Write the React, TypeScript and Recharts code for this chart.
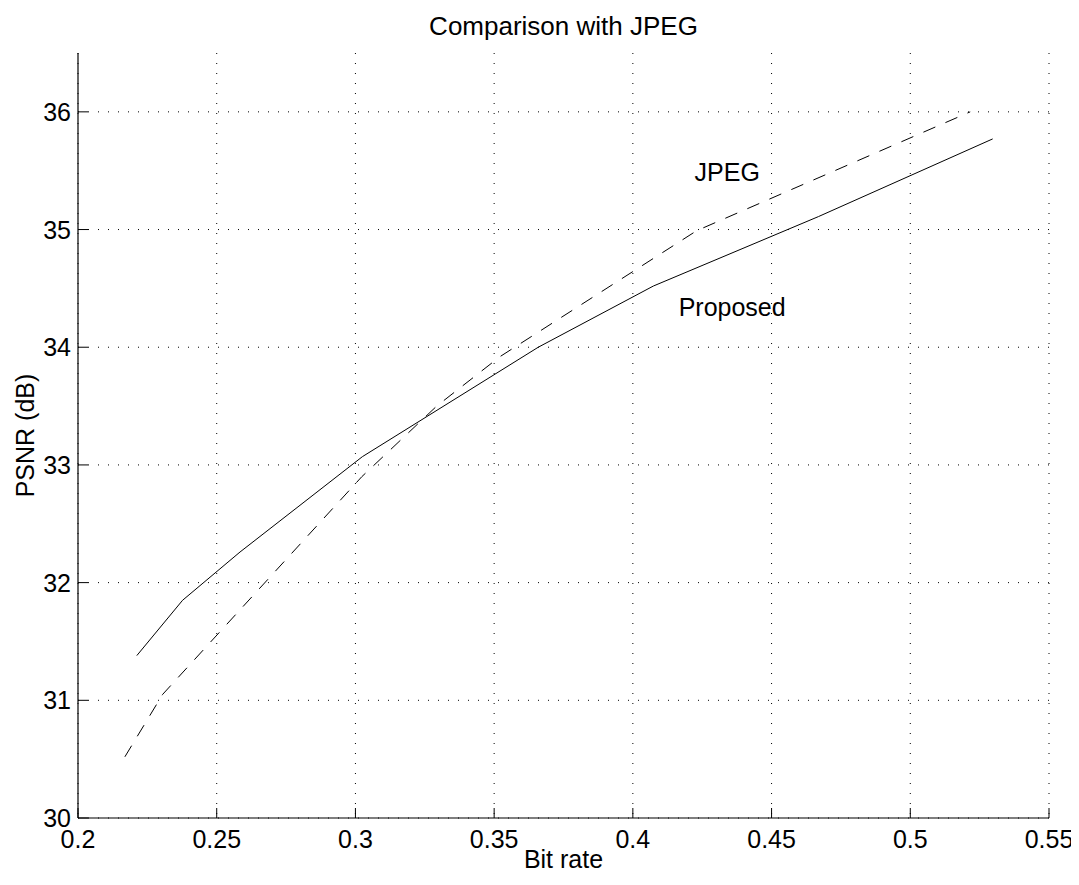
import React from "react";
import {
  LineChart,
  Line,
  XAxis,
  YAxis,
  CartesianGrid,
  ReferenceDot,
} from "recharts";

// values
const proposed = [
  { rate: 0.2212, psnr: 31.38 },
  { rate: 0.2377, psnr: 31.85 },
  { rate: 0.2584, psnr: 32.26 },
  { rate: 0.3025, psnr: 33.07 },
  { rate: 0.3659, psnr: 34.0 },
  { rate: 0.4074, psnr: 34.52 },
  { rate: 0.4669, psnr: 35.11 },
  { rate: 0.5297, psnr: 35.77 },
];

const jpeg = [
  { rate: 0.2169, psnr: 30.52 },
  { rate: 0.2305, psnr: 31.05 },
  { rate: 0.3023, psnr: 32.9 },
  { rate: 0.3293, psnr: 33.5 },
  { rate: 0.3521, psnr: 33.92 },
  { rate: 0.423, psnr: 34.99 },
  { rate: 0.5216, psnr: 36.0 },
];

const bitRateTicks = [0.2, 0.25, 0.3, 0.35, 0.4, 0.45, 0.5, 0.55];
const psnrTicks = [30, 31, 32, 33, 34, 35, 36];

const curveLabels = [
  { text: "JPEG", rate: 0.434, psnr: 35.49 },
  { text: "Proposed", rate: 0.4358, psnr: 34.34 },
];

const FONT = "'Liberation Sans', Arial, Helvetica, sans-serif";
const TICK_LEN = 10;

const BottomTick = (props: any) => {
  const { x, y, payload } = props;
  return (
    <g>
      <line x1={x} y1={y} x2={x} y2={y - TICK_LEN} stroke="#000" />
      <text x={x} y={y + 30} textAnchor="middle" fontSize={25} fill="#000">
        {String(payload.value)}
      </text>
    </g>
  );
};

const LeftTick = (props: any) => {
  const { x, y, payload } = props;
  return (
    <g>
      <line x1={x} y1={y} x2={x + TICK_LEN} y2={y} stroke="#000" />
      <text x={x - 7} y={y + 9} textAnchor="end" fontSize={25} fill="#000">
        {String(payload.value)}
      </text>
    </g>
  );
};

const TopTick = (props: any) => {
  const { x, y } = props;
  return <line x1={x} y1={y} x2={x} y2={y + TICK_LEN} stroke="#000" />;
};

const RightTick = (props: any) => {
  const { x, y } = props;
  return <line x1={x} y1={y} x2={x - TICK_LEN} y2={y} stroke="#000" />;
};

export default function App() {
  return (
    <div style={{ position: "relative", width: 1071, height: 865, fontFamily: FONT }}>
      <div
        style={{
          position: "absolute",
          top: 5,
          left: 70,
          width: 971,
          textAlign: "center",
          fontSize: 26,
          lineHeight: "26px",
          color: "#000",
        }}
      >
        Comparison with JPEG
      </div>
      <LineChart
        width={1071}
        height={865}
        margin={{ top: 45, right: 30, bottom: 0, left: 0 }}
        style={{ fontFamily: FONT }}
      >
        <CartesianGrid
          stroke="#000"
          strokeDasharray="1 9"
          horizontalValues={psnrTicks}
          verticalValues={bitRateTicks}
        />
        <XAxis
          dataKey="rate"
          type="number"
          domain={[0.2, 0.55]}
          ticks={bitRateTicks}
          interval={0}
          allowDataOverflow
          height={55}
          tickSize={0}
          tickMargin={0}
          tick={<BottomTick />}
          axisLine={{ stroke: "#000", strokeWidth: 1.2 }}
          label={{
            value: "Bit rate",
            position: "insideBottom",
            offset: 5,
            fontSize: 25,
            fill: "#000",
          }}
        />
        <XAxis
          xAxisId="top"
          orientation="top"
          dataKey="rate"
          type="number"
          domain={[0.2, 0.55]}
          ticks={bitRateTicks}
          interval={0}
          allowDataOverflow
          height={0}
          tickSize={0}
          tickMargin={0}
          tick={<TopTick />}
          axisLine={{ stroke: "#000", strokeWidth: 1.2 }}
        />
        <YAxis
          type="number"
          domain={[30, 36.5]}
          ticks={psnrTicks}
          interval={0}
          allowDataOverflow
          width={70}
          tickSize={0}
          tickMargin={0}
          tick={<LeftTick />}
          axisLine={{ stroke: "#000", strokeWidth: 1.2 }}
          label={{
            value: "PSNR (dB)",
            angle: -90,
            position: "insideLeft",
            offset: 17,
            fontSize: 25,
            fill: "#000",
            style: { textAnchor: "middle" },
          }}
        />
        <YAxis
          yAxisId="right"
          orientation="right"
          type="number"
          domain={[30, 36.5]}
          ticks={psnrTicks}
          interval={0}
          allowDataOverflow
          width={0}
          tickSize={0}
          tickMargin={0}
          tick={<RightTick />}
          axisLine={{ stroke: "#000", strokeWidth: 1.2 }}
        />
        <Line
          data={proposed}
          dataKey="psnr"
          type="linear"
          stroke="#000"
          strokeWidth={1}
          dot={false}
          isAnimationActive={false}
        />
        <Line
          data={jpeg}
          dataKey="psnr"
          type="linear"
          stroke="#000"
          strokeWidth={1}
          strokeDasharray="13 11"
          dot={false}
          isAnimationActive={false}
        />
        {curveLabels.map((l) => (
          <ReferenceDot
            key={l.text}
            x={l.rate}
            y={l.psnr}
            r={0}
            fill="none"
            stroke="none"
            label={{ value: l.text, position: "center", fontSize: 25, fill: "#000" }}
          />
        ))}
      </LineChart>
    </div>
  );
}
